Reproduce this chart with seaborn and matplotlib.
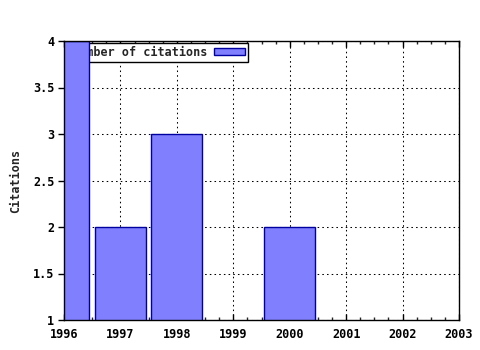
import matplotlib
matplotlib.use("Agg")
import matplotlib.pyplot as plt
import seaborn as sns
import pandas as pd
from matplotlib.ticker import MultipleLocator, FuncFormatter

years = [1996, 1997, 1998, 2000]
citations = [4, 2, 3, 2]
series_label = "Number of citations"
x_ticks = [1996, 1997, 1998, 1999, 2000, 2001, 2002, 2003]
y_ticks = [1, 1.5, 2, 2.5, 3, 3.5, 4]

sns.set_theme(style="white")
plt.rcParams['font.family'] = ['DejaVu Sans Mono']
plt.rcParams['font.weight'] = 'bold'

df = pd.DataFrame({"year": years, "citations": citations})

fig = plt.figure(figsize=(4.8, 3.5), dpi=100)
ax = fig.add_axes([64/480, 30/350, (459-64)/480, (320-41)/350])

sns.barplot(data=df, x="year", y="citations", native_scale=True, width=0.9,
            color="#8080ff", saturation=1, edgecolor="#0000a0", linewidth=1.0,
            label=series_label, ax=ax, zorder=2)

ax.set_xlim(1996, 2003)
ax.set_ylim(1, 4)
ax.set_xticks(x_ticks)
ax.set_yticks(y_ticks)
ax.xaxis.set_minor_locator(MultipleLocator(0.25))
ax.yaxis.set_major_formatter(FuncFormatter(lambda v, p: f"{v:g}"))
ax.set_xlabel("")
ax.set_ylabel("Citations", fontsize=8.5, fontweight="bold", labelpad=8)

for lab in ax.get_xticklabels() + ax.get_yticklabels():
    lab.set_fontsize(8.5)
    lab.set_fontweight("bold")

ax.tick_params(axis="x", which="major", direction="in", length=4, width=1,
               top=True, bottom=True, pad=6, colors="black")
ax.tick_params(axis="x", which="minor", direction="in", length=2.5, width=1,
               top=True, bottom=True)
ax.tick_params(axis="y", which="major", direction="out", length=4, width=1,
               left=True, right=False, pad=3, colors="black")

for s in ax.spines.values():
    s.set_color("black")
    s.set_linewidth(1.0)

ax.grid(True, which="major", color="black", linestyle=(0, (1.5, 3)), linewidth=0.75)
ax.set_axisbelow(True)

leg = ax.legend(loc="upper right", bbox_to_anchor=(248/480, (350-43)/350),
                bbox_transform=fig.transFigure, markerfirst=False,
                frameon=True, fancybox=False, framealpha=1, edgecolor="black",
                borderpad=0.25, handlelength=2.6, handleheight=0.5, handletextpad=0.6,
                borderaxespad=0, prop={"family": "DejaVu Sans Mono", "weight": "bold", "size": 8.5})
leg.get_frame().set_linewidth(1.0)
leg.set_zorder(1.5)

fig.savefig("out.png", dpi=100)
